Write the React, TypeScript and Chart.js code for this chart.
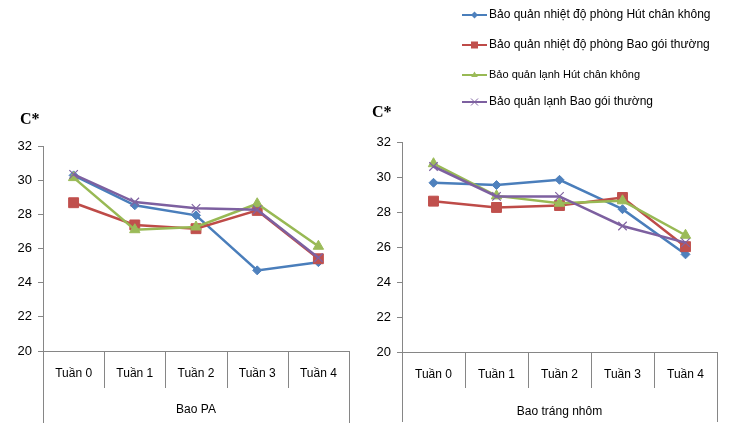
import React, { useEffect, useRef } from 'react';
import { Chart, registerables } from 'chart.js';

Chart.register(...registerables);

// Category labels and group names
const weeks = ['Tuần 0', 'Tuần 1', 'Tuần 2', 'Tuần 3', 'Tuần 4'];
const groupLeft = 'Bao PA';
const groupRight = 'Bao tráng nhôm';
const yTitle = 'C*';

// Series names
const seriesNames = [
  'Bảo quản nhiệt độ phòng Hút chân không',
  'Bảo quản nhiệt độ phòng Bao gói thường',
  'Bảo quản lạnh Hút chân không',
  'Bảo quản lạnh Bao gói thường',
];

// Bao PA values
const paRoomVacuum = [30.28, 28.53, 27.94, 24.72, 25.2];
const paRoomNormal = [28.68, 27.38, 27.16, 28.23, 25.4];
const paColdVacuum = [30.15, 27.1, 27.26, 28.62, 26.13];
const paColdNormal = [30.34, 28.72, 28.35, 28.27, 25.46];

// Bao tráng nhôm values
const alRoomVacuum = [29.67, 29.54, 29.84, 28.16, 25.58];
const alRoomNormal = [28.62, 28.26, 28.37, 28.83, 26.02];
const alColdVacuum = [30.76, 28.92, 28.5, 28.64, 26.67];
const alColdNormal = [30.6, 28.89, 28.89, 27.2, 26.25];

const yMin = 20;
const yMax = 32;
const yStep = 2;

const lineColors = ['#4A7EBB', '#BE4B48', '#98B954', '#7D60A0'];
const markerColors = ['#4F81BD', '#C0504D', '#9BBB59', '#8064A2'];
const markerStyles = ['rectRot', 'rect', 'triangle', 'crossRot'];
const markerRadius = [4.5, 7, 6, 6];
const axisColor = '#868686';
const FONT = "'Liberation Sans', Arial, sans-serif";

function drawMarker(
  ctx: CanvasRenderingContext2D,
  style: string,
  x: number,
  y: number,
  r: number,
  fill: string
) {
  ctx.save();
  ctx.fillStyle = fill;
  ctx.strokeStyle = fill;
  ctx.beginPath();
  if (style === 'rectRot') {
    ctx.moveTo(x, y - r);
    ctx.lineTo(x + r, y);
    ctx.lineTo(x, y + r);
    ctx.lineTo(x - r, y);
    ctx.closePath();
    ctx.fill();
  } else if (style === 'rect') {
    ctx.rect(x - r, y - r, 2 * r, 2 * r);
    ctx.fill();
  } else if (style === 'triangle') {
    ctx.moveTo(x, y - r);
    ctx.lineTo(x + r * 0.95, y + r * 0.6);
    ctx.lineTo(x - r * 0.95, y + r * 0.6);
    ctx.closePath();
    ctx.fill();
  } else {
    ctx.lineWidth = 1;
    ctx.moveTo(x - r, y - r);
    ctx.lineTo(x + r, y + r);
    ctx.moveTo(x + r, y - r);
    ctx.lineTo(x - r, y + r);
    ctx.stroke();
  }
  ctx.restore();
}

type Area = { left: number; right: number; top: number; bottom: number };

type PanelProps = {
  x: number;
  width: number;
  group: string;
  values: number[][];
  area: Area;
  tickPad: number;
  titlePad: number;
  innerDrop: number;
  outerDrop: number;
  titlePos: { x: number; y: number };
  legend?: boolean;
};

const HEIGHT = 434;

function Panel(props: PanelProps) {
  const ref = useRef<HTMLCanvasElement | null>(null);

  useEffect(() => {
    const canvas = ref.current;
    if (!canvas) return;
    const { area } = props;

    // Category dividers below the x axis, the y-axis title and the legend
    const decorations = {
      id: 'decorations',
      afterDraw(chart: any) {
        const ctx: CanvasRenderingContext2D = chart.ctx;
        const xs = chart.scales.x;
        const n = weeks.length;
        const bottom = chart.chartArea.bottom;
        const edges: number[] = [xs.left];
        for (let i = 0; i < n - 1; i++) {
          edges.push((xs.getPixelForTick(i) + xs.getPixelForTick(i + 1)) / 2);
        }
        edges.push(xs.right);
        ctx.save();
        ctx.strokeStyle = axisColor;
        ctx.lineWidth = 1;
        edges.forEach((ex, i) => {
          const px = Math.round(ex) + 0.5;
          const drop = i === 0 || i === edges.length - 1 ? props.outerDrop : props.innerDrop;
          ctx.beginPath();
          ctx.moveTo(px, bottom);
          ctx.lineTo(px, bottom + drop);
          ctx.stroke();
        });

        ctx.fillStyle = '#000';
        ctx.font = "bold 16px 'Liberation Serif', 'Times New Roman', serif";
        ctx.textBaseline = 'middle';
        ctx.textAlign = 'left';
        ctx.fillText(yTitle, props.titlePos.x, props.titlePos.y);

        if (props.legend) {
          const rows = [15, 45, 75, 102];
          const lx0 = 462 - props.x;
          const lx1 = 487 - props.x;
          seriesNames.forEach((name, i) => {
            ctx.strokeStyle = lineColors[i];
            ctx.lineWidth = 2;
            ctx.beginPath();
            ctx.moveTo(lx0, rows[i]);
            ctx.lineTo(lx1, rows[i]);
            ctx.stroke();
            drawMarker(ctx, markerStyles[i], (lx0 + lx1) / 2, rows[i], 3.5, markerColors[i]);
            ctx.fillStyle = '#000';
            ctx.font = i === 2 ? `11px ${FONT}` : `12px ${FONT}`;
            ctx.textBaseline = 'middle';
            ctx.textAlign = 'left';
            ctx.fillText(name, lx1 + 2, rows[i]);
          });
        }
        ctx.restore();
      },
    };

    const chart = new Chart(canvas, {
      type: 'line',
      data: {
        labels: weeks,
        datasets: props.values.map((vals, i) => ({
          label: seriesNames[i],
          data: vals,
          borderColor: lineColors[i],
          backgroundColor: markerColors[i],
          borderWidth: 2.5,
          tension: 0,
          fill: false,
          order: 4 - i,
          pointStyle: markerStyles[i] as any,
          pointRadius: markerRadius[i],
          pointBackgroundColor: markerColors[i],
          pointBorderColor: markerColors[i],
          pointBorderWidth: i === 3 ? 1.2 : 1,
        })),
      },
      options: {
        responsive: false,
        animation: false,
        layout: {
          padding: { left: 0, right: props.width - area.right, top: area.top, bottom: 0 },
        },
        plugins: {
          legend: { display: false },
          tooltip: { enabled: false },
        },
        scales: {
          x: {
            type: 'category',
            offset: true,
            grid: { display: false, drawTicks: false },
            border: { display: true, color: axisColor, width: 1 },
            ticks: {
              color: '#000',
              font: { family: FONT, size: 12 },
              padding: props.tickPad,
              maxRotation: 0,
              autoSkip: false,
            },
            title: {
              display: true,
              text: props.group,
              color: '#000',
              font: { family: FONT, size: 12 },
              padding: { top: 0, bottom: props.titlePad },
            },
            afterFit: (s: any) => {
              s.height = HEIGHT - area.bottom;
            },
          },
          y: {
            min: yMin,
            max: yMax,
            ticks: {
              stepSize: yStep,
              color: '#000',
              font: { family: FONT, size: 13 },
              padding: 6,
            },
            grid: {
              display: true,
              drawOnChartArea: false,
              drawTicks: true,
              tickLength: 5,
              color: axisColor,
            },
            border: { display: true, color: axisColor, width: 1 },
            afterFit: (s: any) => {
              s.width = area.left;
            },
          },
        },
      },
      plugins: [decorations],
    });

    return () => chart.destroy();
  }, []);

  return (
    <canvas
      ref={ref}
      width={props.width}
      height={HEIGHT}
      style={{ position: 'absolute', left: props.x, top: 0, width: props.width, height: HEIGHT }}
    />
  );
}

export default function App() {
  return (
    <div
      style={{
        position: 'absolute',
        left: 0,
        top: 0,
        width: 729,
        height: HEIGHT,
        background: '#fff',
        overflow: 'hidden',
      }}
    >
      <Panel
        x={0}
        width={362}
        group={groupLeft}
        values={[paRoomVacuum, paRoomNormal, paColdVacuum, paColdNormal]}
        area={{ left: 43, right: 349, top: 146, bottom: 351 }}
        tickPad={15}
        titlePad={17}
        innerDrop={37}
        outerDrop={72}
        titlePos={{ x: 20, y: 120 }}
      />
      <Panel
        x={362}
        width={367}
        group={groupRight}
        values={[alRoomVacuum, alRoomNormal, alColdVacuum, alColdNormal]}
        area={{ left: 40, right: 355, top: 142, bottom: 352 }}
        tickPad={15}
        titlePad={15}
        innerDrop={36}
        outerDrop={70}
        titlePos={{ x: 10, y: 113 }}
        legend
      />
    </div>
  );
}
